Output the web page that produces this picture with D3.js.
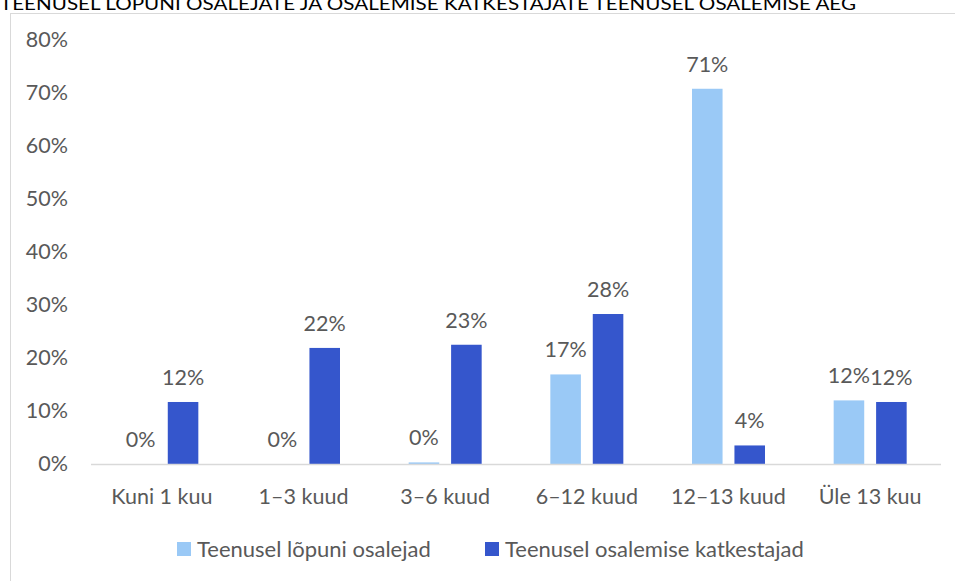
<!DOCTYPE html>
<html>
<head>
<meta charset="utf-8">
<script src="https://cdn.jsdelivr.net/npm/d3@7"></script>
<style>
  body { margin: 0; background: #fff; }
  svg { display: block; }
  text { font-family: Lato, "Open Sans", sans-serif; }
</style>
</head>
<body>
<svg id="chart" width="955" height="581"></svg>
<script>
// data
var categories = ["Kuni 1 kuu", "1\u20133 kuud", "3\u20136 kuud", "6\u201312 kuud", "12\u201313 kuud", "\u00dcle 13 kuu"];
var lopuni = [0, 0, 0.3, 16.9, 70.8, 12.0];      // Teenusel lõpuni osalejad
var katkestajad = [11.7, 21.9, 22.5, 28.3, 3.5, 11.7]; // Teenusel osalemise katkestajad
var seriesNames = ["Teenusel l\u00f5puni osalejad", "Teenusel osalemise katkestajad"];
var yTicks = [0, 10, 20, 30, 40, 50, 60, 70, 80];
var colors = ["#9ac9f6", "#3556cc"];
var fs = 21.5;

var svg = d3.select("#chart");

// title, cut off at the top like in the original
svg.append("text")
  .attr("x", 0).attr("y", 10)
  .attr("font-size", 18)
  .attr("fill", "#000")
  .attr("textLength", 856).attr("lengthAdjust", "spacingAndGlyphs")
  .text("TEENUSEL L\u00d5PUNI OSALEJATE JA OSALEMISE KATKESTAJATE TEENUSEL OSALEMISE AEG");

// chart area border
svg.append("rect")
  .attr("x", 10.5).attr("y", 13.5)
  .attr("width", 960).attr("height", 600)
  .attr("fill", "none").attr("stroke", "#d9d9d9");

var x0 = d3.scaleBand().domain(categories).range([91, 941]).paddingInner(0).paddingOuter(0);
var x1 = d3.scaleBand().domain([0, 1]).range([x0.bandwidth() / 2 - 36.5, x0.bandwidth() / 2 + 36.5]).paddingInner(0.28);
var y = d3.scaleLinear().domain([0, 80]).range([464, 40]);

// y axis labels
var yAxis = svg.append("g")
  .attr("transform", "translate(68,0)")
  .call(d3.axisLeft(y).tickValues(yTicks).tickSize(0).tickPadding(0).tickFormat(function(d) { return d + "%"; }));
yAxis.select(".domain").remove();
yAxis.selectAll("text").attr("font-size", fs).attr("fill", "#595959")
  .attr("font-family", "Lato, 'Open Sans', sans-serif");

// bars
var rows = categories.map(function(c, i) { return { cat: c, vals: [lopuni[i], katkestajad[i]] }; });
var groups = svg.selectAll("g.grp")
    .data(rows)
  .enter().append("g")
    .attr("class", "grp")
    .attr("transform", function(d) { return "translate(" + x0(d.cat) + ",0)"; });

groups.selectAll("rect")
    .data(function(d) { return d.vals.map(function(v, s) { return { v: v, s: s }; }); })
  .enter().append("rect")
    .attr("x", function(d) { return x1(d.s); })
    .attr("width", x1.bandwidth())
    .attr("y", function(d) { return y(d.v); })
    .attr("height", function(d) { return y(0) - y(d.v); })
    .attr("fill", function(d) { return colors[d.s]; });

groups.selectAll("text.lbl")
    .data(function(d) { return d.vals.map(function(v, s) { return { v: v, s: s }; }); })
  .enter().append("text")
    .attr("class", "lbl")
    .attr("x", function(d) { return x1(d.s) + x1.bandwidth() / 2; })
    .attr("y", function(d) { return y(d.v) - 17; })
    .attr("text-anchor", "middle")
    .attr("font-size", fs)
    .attr("fill", "#595959")
    .text(function(d) { return Math.round(d.v) + "%"; });

// baseline
svg.append("line")
  .attr("x1", 91).attr("x2", 941)
  .attr("y1", y(0) + 0.5).attr("y2", y(0) + 0.5)
  .attr("stroke", "#d9d9d9").attr("stroke-width", 1.5);

// x axis labels
var xAxis = svg.append("g")
  .attr("transform", "translate(0,489)")
  .call(d3.axisBottom(x0).tickSize(0).tickPadding(0));
xAxis.select(".domain").remove();
xAxis.selectAll("text").attr("font-size", fs).attr("fill", "#595959")
  .attr("y", 0).attr("dy", "0.71em")
  .attr("font-family", "Lato, 'Open Sans', sans-serif");

// legend
var legendX = [177, 485];
var leg = svg.selectAll("g.leg")
    .data(seriesNames)
  .enter().append("g")
    .attr("class", "leg")
    .attr("transform", function(d, i) { return "translate(" + legendX[i] + ",542)"; });
leg.append("rect").attr("width", 14).attr("height", 14)
  .attr("fill", function(d, i) { return colors[i]; });
leg.append("text")
  .attr("x", 20).attr("y", 15)
  .attr("font-size", 22).attr("fill", "#595959")
  .text(function(d) { return d; });
</script>
</body>
</html>
